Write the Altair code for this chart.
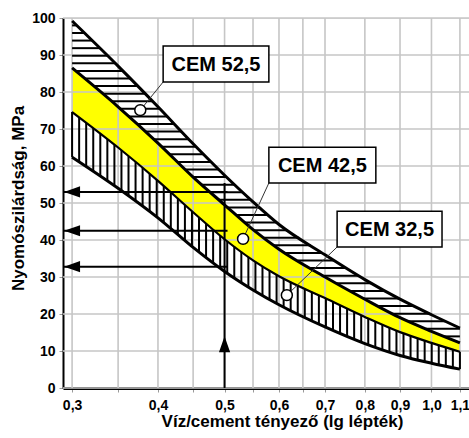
import altair as alt
import numpy as np
import pandas as pd

# ---- data ----
wc = [0.3, 0.35, 0.4, 0.45, 0.5, 0.55, 0.6, 0.7, 0.8, 0.9, 1.0, 1.1]
cem525_top = [99.2, 87.0, 76.0, 66.0, 57.5, 50.3, 44.2, 36.0, 29.3, 24.0, 19.8, 16.2]
cem525_bottom = [86.5, 76.0, 66.2, 57.0, 49.5, 42.8, 37.5, 30.0, 24.0, 19.0, 15.3, 12.2]
cem425_bottom = [74.6, 65.0, 56.0, 47.5, 40.2, 34.5, 30.2, 24.3, 19.2, 15.1, 12.2, 9.8]
cem325_bottom = [62.4, 54.0, 46.0, 38.0, 31.5, 26.5, 22.5, 16.5, 12.0, 8.8, 6.7, 5.1]

grid_x = [0.3, 0.35, 0.4, 0.45, 0.5, 0.55, 0.6, 0.65, 0.7, 0.8, 0.9, 1.0, 1.1]
grid_y = [0, 10, 20, 30, 40, 50, 60, 70, 80, 90, 100]

label_text = ["CEM 52,5", "CEM 42,5", "CEM 32,5"]
marker_wc = [0.377, 0.532, 0.616]
marker_val = [75.1, 40.3, 25.1]
box_x0 = [0.407, 0.580, 0.729]
box_x1 = [0.580, 0.830, 1.036]
box_y0 = [82.7, 55.4, 38.1]
box_y1 = [92.4, 65.1, 47.8]

arrow_levels = [53.0, 42.5, 32.8]
arrow_wc = 0.5
arrow_top = 55.4
arrow_end = 0.505
x_min, x_max = 0.291, 1.134

FONT = "Liberation Sans"
xs = alt.Scale(type="log", domain=[x_min, x_max], nice=False)
ys = alt.Scale(domain=[0, 100], nice=False, zero=False)

# ---- derived tables ----
lx = np.log10(wc)
curves = pd.DataFrame({"wc": wc, "a1": cem525_top, "a2": cem525_bottom,
                       "a3": cem425_bottom, "a4": cem325_bottom})

# vertical hatching of the CEM 32,5 band
vx = 10 ** np.linspace(lx[0], lx[-1], 56)
vdf = pd.DataFrame({"x": vx,
                    "y0": np.interp(np.log10(vx), lx, cem325_bottom),
                    "y1": np.interp(np.log10(vx), lx, cem425_bottom)})

# horizontal hatching of the CEM 52,5 band
rows = []
for h in np.arange(98.0, 12.5, -2.05):
    right = np.interp(h, cem525_top[::-1], lx[::-1])
    left = np.interp(h, cem525_bottom[::-1], lx[::-1])
    if right > left:
        rows.append({"x0": 10 ** left, "x1": 10 ** right, "y": h})
hdf = pd.DataFrame(rows)

marks = pd.DataFrame({"t": label_text, "mx": marker_wc, "my": marker_val,
                      "bx0": box_x0, "bx1": box_x1, "by0": box_y0, "by1": box_y1})
marks["tx"] = np.sqrt(marks["bx0"] * marks["bx1"])
marks["ty"] = (marks["by0"] + marks["by1"]) / 2

arrows = pd.DataFrame({"lvl": arrow_levels, "x0": x_min, "x1": arrow_end, "xh": 0.3})
varrow = pd.DataFrame({"x": [arrow_wc], "y0": [0], "y1": [arrow_top], "yh": [11.8]})

gx = pd.DataFrame({"g": grid_x})
gy = pd.DataFrame({"g": grid_y})

x_axis = alt.Axis(values=grid_x, grid=False, domainColor="black", domainWidth=3,
                  tickColor="#999999", tickSize=4, labelFont=FONT, labelFontSize=14,
                  labelFontWeight="bold",
                  labelColor="black", labelPadding=6, labelOverlap=False, labelFlush=False,
                  labelBound=False,
                  labelExpr="(round(datum.value*100) % 10 == 5) ? '' : replace(format(datum.value, '.1f'), '.', ',')",
                  title="Víz/cement tényező (lg lépték)", titleFont=FONT, titleFontSize=17,
                  titleFontWeight="bold", titleColor="black", titleX=219, titleY=33,
                  titleBaseline="middle", titleAlign="center")
y_axis = alt.Axis(values=grid_y, tickCount=11, grid=False, domainColor="black", domainWidth=2,
                  tickColor="#999999", tickSize=4, labelFont=FONT, labelFontSize=14,
                  labelFontWeight="bold", labelOverlap=False, labelBound=False, labelFlush=False,
                  labelColor="black", labelPadding=4,
                  labelExpr="format(datum.value, 'd')",
                  title="Nyomószilárdság, MPa", titleFont=FONT, titleFontSize=17,
                  titleFontWeight="bold", titleColor="black", titleX=-45, titleY=180,
                  titleBaseline="middle", titleAlign="center", titleAngle=270)

grid_v = alt.Chart(gx).mark_rule(color="#c6c6c6", strokeWidth=1.6).encode(
    x=alt.X("g:Q", scale=xs, axis=x_axis))
grid_h = alt.Chart(gy).mark_rule(color="#c6c6c6", strokeWidth=1.6).encode(
    y=alt.Y("g:Q", scale=ys, axis=y_axis))

yellow = alt.Chart(curves).mark_area(color="#ffff00", interpolate="monotone").encode(
    x=alt.X("wc:Q", scale=xs), y=alt.Y("a3:Q", scale=ys), y2="a2:Q")

hatch_v = alt.Chart(vdf).mark_rule(color="black", strokeWidth=2).encode(
    x=alt.X("x:Q", scale=xs), y=alt.Y("y0:Q", scale=ys), y2="y1:Q")
hatch_h = alt.Chart(hdf).mark_rule(color="black", strokeWidth=2).encode(
    x=alt.X("x0:Q", scale=xs), x2="x1:Q", y=alt.Y("y:Q", scale=ys))

def bound(col, w):
    return alt.Chart(curves).mark_line(color="black", strokeWidth=w, interpolate="monotone").encode(
        x=alt.X("wc:Q", scale=xs), y=alt.Y(f"{col}:Q", scale=ys))

lines = [bound("a1", 3), bound("a2", 3), bound("a3", 2.2), bound("a4", 3)]

arr_h = alt.Chart(arrows).mark_rule(color="black", strokeWidth=2).encode(
    x=alt.X("x0:Q", scale=xs), x2="x1:Q", y=alt.Y("lvl:Q", scale=ys))
arr_h_head = alt.Chart(arrows).mark_point(shape="M-1,0L1,-0.7L1,0.7Z", filled=True, color="black",
                                          opacity=1, size=256).encode(
    x=alt.X("xh:Q", scale=xs), y=alt.Y("lvl:Q", scale=ys))
arr_v = alt.Chart(varrow).mark_rule(color="black", strokeWidth=2).encode(
    x=alt.X("x:Q", scale=xs), y=alt.Y("y0:Q", scale=ys), y2="y1:Q")
arr_v_head = alt.Chart(varrow).mark_point(shape="M0,-1L0.7,1L-0.7,1Z", filled=True, color="black",
                                          opacity=1, size=256).encode(
    x=alt.X("x:Q", scale=xs), y=alt.Y("yh:Q", scale=ys))

leader = alt.Chart(marks).mark_rule(color="#333333", strokeWidth=1).encode(
    x=alt.X("bx0:Q", scale=xs), x2="mx:Q", y=alt.Y("by0:Q", scale=ys), y2="my:Q")
boxes = alt.Chart(marks).mark_rect(fill="white", stroke="black", strokeWidth=1.5).encode(
    x=alt.X("bx0:Q", scale=xs), x2="bx1:Q", y=alt.Y("by0:Q", scale=ys), y2="by1:Q")
texts = alt.Chart(marks).mark_text(font=FONT, fontSize=20, fontWeight="bold", color="black",
                                   baseline="middle", align="center", dy=1).encode(
    x=alt.X("tx:Q", scale=xs), y=alt.Y("ty:Q", scale=ys), text="t:N")
circles = alt.Chart(marks).mark_point(shape="circle", filled=True, fill="white", stroke="black",
                                      strokeWidth=1.5, opacity=1, size=120).encode(
    x=alt.X("mx:Q", scale=xs), y=alt.Y("my:Q", scale=ys))

# yellow first so the grid lies over it (drawn order = list order)
chart = alt.layer(
    yellow, grid_v, grid_h, hatch_v, hatch_h, *lines,
    arr_h, arr_h_head, arr_v, arr_v_head, leader, boxes, texts, circles
).properties(
    width=406, height=370,
    autosize=alt.AutoSizeParams(type="none"),
    padding={"left": 63, "top": 18, "right": 0, "bottom": 50},
).configure_view(strokeWidth=0).configure(background="white")

chart.save("out.html", embed_options={"renderer": "svg", "actions": False})
